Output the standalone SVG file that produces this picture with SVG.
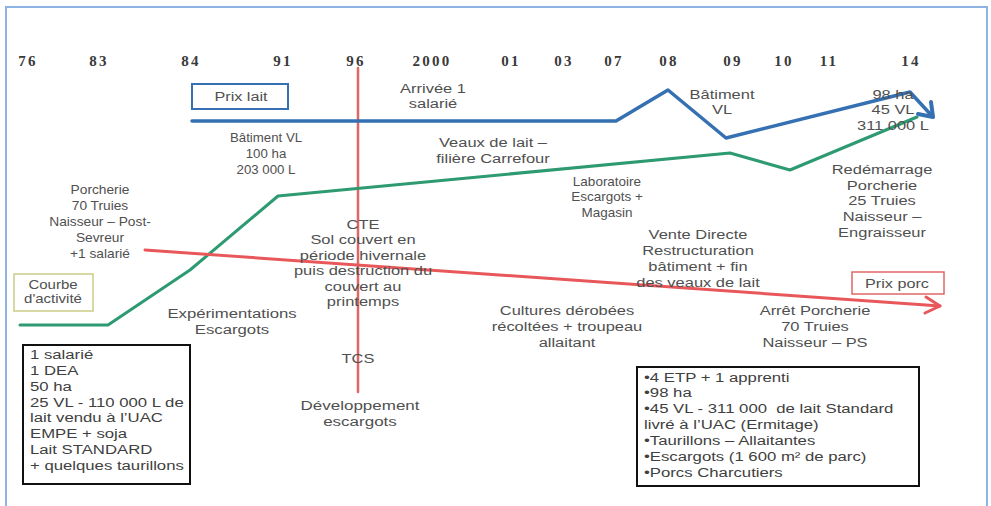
<svg xmlns="http://www.w3.org/2000/svg" width="991" height="506" viewBox="0 0 991 506">
<style>
.yr{font-family:"Liberation Serif",serif;font-weight:bold;font-size:15px;letter-spacing:2.2px;fill:#3a3a3a;text-anchor:middle}
.t{font-family:"Liberation Sans",Arial,sans-serif;font-size:12.5px;fill:#505050;text-anchor:middle}
.w{font-family:"Liberation Sans",Arial,sans-serif;font-size:13.5px;fill:#505050;text-anchor:middle}
.b{font-family:"Liberation Sans",Arial,sans-serif;font-size:13.5px;fill:#404040}
.box{fill:#fff;stroke:#111;stroke-width:2}
</style>
<rect width="991" height="506" fill="#fff"/>
<path d="M6,506 V7 H987 V506" fill="none" stroke="#8db3e2" stroke-width="2"/>
<g id="years">
<text class="yr" x="28" y="66">76</text>
<text class="yr" x="99" y="66">83</text>
<text class="yr" x="191" y="66">84</text>
<text class="yr" x="283" y="66">91</text>
<text class="yr" x="356" y="66">96</text>
<text class="yr" x="432" y="66">2000</text>
<text class="yr" x="511" y="66">01</text>
<text class="yr" x="564" y="66">03</text>
<text class="yr" x="614" y="66">07</text>
<text class="yr" x="669" y="66">08</text>
<text class="yr" x="733" y="66">09</text>
<text class="yr" x="784" y="66">10</text>
<text class="yr" x="829" y="66">11</text>
<text class="yr" x="911" y="66">14</text>
</g>
<g id="connectors" fill="none" stroke-linejoin="round" stroke-linecap="round">
<line x1="358" y1="68" x2="358" y2="392" stroke="#e06666" stroke-width="2.5"/>
<polyline points="20,325 108,325 190,270 278,196 730,153 790,170 917,117" stroke="#2e9a72" stroke-width="3"/>
<polyline points="192,121 616,121 668,90 726,138 910,92 932,116" stroke="#3470b2" stroke-width="3.5"/>
<polyline points="918,114 933,117 931,102" stroke="#3470b2" stroke-width="4"/>
<line x1="145" y1="250" x2="940" y2="306" stroke="#e8575a" stroke-width="3"/>
<polyline points="926,297 940,306 925,313" stroke="#e8575a" stroke-width="3"/>
</g>
<g id="prix-lait">
<rect x="192" y="84" width="96" height="25" fill="#fff" stroke="#3470b2" stroke-width="2"/>
<g transform="translate(241,0) scale(1.2,1)"><text class="w" x="0" y="101">Prix lait</text></g>
</g>
<g id="prix-porc">
<rect x="852" y="272" width="92" height="22" fill="#fff" stroke="#e06666" stroke-width="1.5"/>
<g transform="translate(897,0) scale(1.2,1)"><text class="w" x="0" y="288">Prix porc</text></g>
</g>
<g id="courbe">
<rect x="14" y="274" width="79" height="37" fill="#fff" stroke="#cccc88" stroke-width="1.5"/>
<g transform="translate(53,0) scale(1.2,1)">
<text class="t" x="0" y="289" font-size="11">Courbe</text>
<text class="t" x="0" y="303" font-size="11">d'activité</text>
</g>
</g>
<g id="arrivee" transform="translate(433,0) scale(1.22,1)">
<text class="w" x="0" y="93">Arrivée 1</text>
<text class="w" x="0" y="108">salarié</text>
</g>
<g id="batiment-08" transform="translate(722,0) scale(1.22,1)">
<text class="w" x="0" y="99">Bâtiment</text>
<text class="w" x="0" y="114">VL</text>
</g>
<g id="etat-14" transform="translate(893,0) scale(1.22,1)">
<text class="w" x="0" y="99">98 ha</text>
<text class="w" x="0" y="114">45 VL</text>
<text class="w" x="0" y="130">311 000 L</text>
</g>
<g id="batiment-91" transform="translate(266,0) scale(1.06,1)">
<text class="t" x="0" y="142">Bâtiment VL</text>
<text class="t" x="0" y="158">100 ha</text>
<text class="t" x="0" y="174">203 000 L</text>
</g>
<g id="veaux" transform="translate(493,0) scale(1.22,1)">
<text class="w" x="0" y="147">Veaux de lait –</text>
<text class="w" x="0" y="163">filière Carrefour</text>
</g>
<g id="porcherie" transform="translate(100,0) scale(1.1,1)">
<text class="t" x="0" y="194">Porcherie</text>
<text class="t" x="0" y="210">70 Truies</text>
<text class="t" x="0" y="226">Naisseur – Post-</text>
<text class="t" x="0" y="242">Sevreur</text>
<text class="t" x="0" y="258">+1 salarié</text>
</g>
<g id="laboratoire" transform="translate(607,0) scale(1.08,1)">
<text class="t" x="0" y="186">Laboratoire</text>
<text class="t" x="0" y="201">Escargots +</text>
<text class="t" x="0" y="217">Magasin</text>
</g>
<g id="redemarrage" transform="translate(882,0) scale(1.22,1)">
<text class="w" x="0" y="174">Redémarrage</text>
<text class="w" x="0" y="190">Porcherie</text>
<text class="w" x="0" y="205">25 Truies</text>
<text class="w" x="0" y="221">Naisseur –</text>
<text class="w" x="0" y="237">Engraisseur</text>
</g>
<g id="cte" transform="translate(363,0) scale(1.22,1)">
<text class="w" x="0" y="229">CTE</text>
<text class="w" x="0" y="244">Sol couvert en</text>
<text class="w" x="0" y="260">période hivernale</text>
<text class="w" x="0" y="275">puis destruction du</text>
<text class="w" x="0" y="291">couvert au</text>
<text class="w" x="0" y="306">printemps</text>
</g>
<g id="vente" transform="translate(698,0) scale(1.22,1)">
<text class="w" x="0" y="239">Vente Directe</text>
<text class="w" x="0" y="255">Restructuration</text>
<text class="w" x="0" y="271">bâtiment + fin</text>
<text class="w" x="0" y="287">des veaux de lait</text>
</g>
<g id="experimentations" transform="translate(232,0) scale(1.24,1)">
<text class="w" x="0" y="318">Expérimentations</text>
<text class="w" x="0" y="334">Escargots</text>
</g>
<g id="cultures" transform="translate(567,0) scale(1.22,1)">
<text class="w" x="0" y="315">Cultures dérobées</text>
<text class="w" x="0" y="331">récoltées + troupeau</text>
<text class="w" x="0" y="347">allaitant</text>
</g>
<g id="arret" transform="translate(815,0) scale(1.22,1)">
<text class="w" x="0" y="315">Arrêt Porcherie</text>
<text class="w" x="0" y="331">70 Truies</text>
<text class="w" x="0" y="347">Naisseur – PS</text>
</g>
<g id="tcs" transform="translate(358,0) scale(1.22,1)">
<text class="w" x="0" y="363">TCS</text>
</g>
<g id="developpement" transform="translate(360,0) scale(1.26,1)">
<text class="w" x="0" y="410">Développement</text>
<text class="w" x="0" y="426">escargots</text>
</g>
<g id="box-debut">
<rect class="box" x="23" y="345" width="167" height="139"/>
<g transform="translate(30,0) scale(1.24,1)">
<text class="b" x="0" y="359">1 salarié</text>
<text class="b" x="0" y="375">1 DEA</text>
<text class="b" x="0" y="391">50 ha</text>
<text class="b" x="0" y="407">25 VL - 110 000 L de</text>
<text class="b" x="0" y="422">lait vendu à l’UAC</text>
<text class="b" x="0" y="438">EMPE + soja</text>
<text class="b" x="0" y="454">Lait STANDARD</text>
<text class="b" x="0" y="470">+ quelques taurillons</text>
</g>
</g>
<g id="box-fin">
<rect class="box" x="637" y="367" width="282" height="119"/>
<g transform="translate(644,0) scale(1.24,1)">
<text class="b" x="0" y="382">•4 ETP + 1 apprenti</text>
<text class="b" x="0" y="397">•98 ha</text>
<text class="b" x="0" y="413" xml:space="preserve">•45 VL - 311 000  de lait Standard</text>
<text class="b" x="0" y="429">livré à l’UAC (Ermitage)</text>
<text class="b" x="0" y="445">•Taurillons – Allaitantes</text>
<text class="b" x="0" y="461">•Escargots (1 600 m² de parc)</text>
<text class="b" x="0" y="477">•Porcs Charcutiers</text>
</g>
</g>
</svg>
